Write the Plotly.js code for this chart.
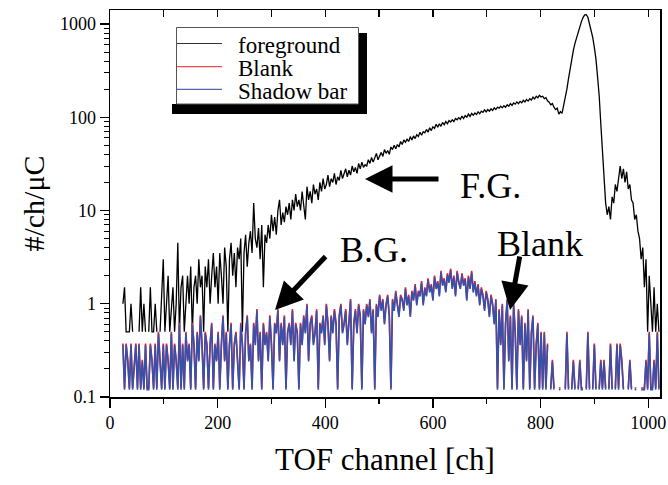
<!DOCTYPE html>
<html>
<head>
<meta charset="utf-8">
<script src="https://cdn.plot.ly/plotly-3.0.1.min.js"></script>
<style>html,body{margin:0;padding:0;background:#fff;}</style>
</head>
<body>
<div id="chart" style="width:668px;height:485px"></div>
<script>
// ---- data ----
const channelStart = 24;   // first channel
const channelStep = 3;     // channel spacing of the values below

const foreground = [
  1,1.5,0.5,0.5,0.5,1,0.5,null,null,null,
  0.5,1.5,0.5,1,0.5,null,0.5,1.5,0.5,0.5,
  1,0.5,null,0.5,1.5,3,0.5,1,2,0.5,
  1,1.5,0.5,1,4.5,0.5,1.5,2,0.5,1,
  2,1,2.5,0.5,1.5,2,1,3,1.5,2,
  0.5,2.5,1.5,3,1,2,3.5,1.5,2.5,1,
  3.5,2,1,4,2.5,0.5,3,4.5,2,3.5,
  1.5,4,3,5,0.5,3.5,5.5,2.5,4.5,6,
  3.5,12,5,4,6.5,3,7,1.5,5.5,4.5,
  7,5,9,6,8.5,5.5,10,13,7,9.5,
  7.5,11,9,12,8,13,10,15,11,13,
  10,16,12,8,18,13,16,12,19,15,
  17,13,20,16,22,17,19,24,18,22,
  20,25,19,23,21,27,22,25,28,23,
  27,24,30,26,29,25,32,28,33,29,
  31,30,35,32,37,33,36,41,35,39,
  42,38,45,41,44,40,48,45,50,46,
  51,48,55,51,57,54,58,55,62,57,
  63,59,65,62,69,64,70,68,74,69,
  77,72,79,76,84,78,85,80,88,83,
  90,85,92,89,94,90,97,94,99,95,
  103,97,104,100,108,102,110,105,111,107,
  114,109,116,113,120,114,121,116,123,118,
  126,121,128,125,131,126,133,128,136,131,
  140,134,142,138,146,140,148,143,152,146,
  155,149,158,153,164,157,168,162,172,165,
  168,158,162,150,145,136,140,128,121,125,
  108,115,110,135,160,200,260,340,420,520,
  620,720,830,940,1060,1170,1250,1260,1180,1000,
  870,720,560,420,270,170,85,45,24,12,
  9,11,8,14,12,19,16,24,30,22,
  28,20,26,17,19,13,12,8,9,6,
  5,3,4,1.5,3,0.5,2,1,0.5,1.5,
  0.5,1,0.5
];

const blank = [
  0.375,0.125,0.375,0.25,0.125,0.375,0.125,0.25,0.375,0.125,
  0.375,0.125,0.25,0.125,0.375,0.125,0.125,0.375,0.25,0.125,
  0.375,0.125,0.5,0.25,0.125,0.375,0.125,0.375,0.25,0.125,
  0.5,0.125,0.375,0.25,0.125,0.625,0.125,0.375,0.125,0.5,
  0.25,0.375,0.125,0.625,0.375,0.125,0.5,0.25,0.75,0.375,
  0.125,0.5,0.375,0.125,0.375,0.625,0.125,0.375,0.25,0.5,
  0.125,0.375,0.75,0.25,0.5,0.125,0.375,0.625,0.125,0.375,
  0.5,0.25,0.125,0.625,0.375,0.125,0.5,0.75,0.25,0.375,
  0.125,0.625,0.375,0.875,0.25,0.5,0.125,0.625,0.375,0.5,
  0.25,0.75,0.375,0.125,0.625,0.5,0.875,0.25,0.625,0.375,
  0.75,0.125,0.5,0.625,0.375,0.875,0.25,0.625,0.5,0.125,
  0.625,0.375,0.75,0.5,1,0.25,0.625,0.75,0.375,0.5,
  0.875,0.125,0.625,0.5,0.75,0.375,1,0.625,0.25,0.75,
  0.5,0.875,0.625,0.125,0.75,1,0.5,0.625,0.875,0.375,
  0.75,1.125,0.125,0.625,0.875,0.5,1,0.75,0.125,0.875,
  0.625,1,0.75,1.125,0.5,0.875,0.125,1,0.75,1.25,
  0.875,1.125,0.625,1,1.25,0.75,0.125,1.125,0.875,1.375,
  1,0.75,1.25,1.125,0.875,1.5,1,1.25,0.75,1.375,
  1.125,1.625,1,1.375,1.25,1.75,1,1.5,1.25,1.875,
  1.375,1.625,1.125,2,1.5,1.75,1.25,2.25,1.625,1.875,
  1.375,2.125,1.75,2.375,1.5,2,1.25,2.25,1.75,1.5,
  2.125,1.625,1.875,1.125,2,1.5,2.25,1.375,1.75,1.25,
  1.625,1,1.5,1.25,0.875,1.375,1.125,0.75,1.25,1,
  0.625,1.125,0.125,0.875,0.375,1,0.125,0.625,1.125,0.25,
  0.75,0.125,1,0.5,0.125,0.875,0.375,0.75,0.125,0.625,
  0.25,0.875,0.125,0.5,0.75,0.125,0.375,0.625,0.125,0.5,
  0.125,0.5,0.125,0.375,null,0.125,0.25,0.125,null,null,
  0.125,0.125,null,null,0.125,0.5,0.125,null,0.125,0.25,
  0.125,null,0.125,0.25,0.125,0.125,null,0.125,0.5,0.125,
  null,0.125,0.375,0.125,null,0.125,0.25,0.125,0.25,0.125,
  null,0.125,0.375,0.125,null,0.125,0.375,0.125,0.375,0.25,
  0.125,null,null,0.125,0.25,0.125,null,0.125,0.125,null,
  null,0.125,0.125,0.125,0.25,0.125,0.5,0.125,0.125,0.25,
  0.125,0.5,0.125
];

const shadowBar = [
  0.36,0.12,0.36,0.24,0.12,0.36,0.12,0.24,0.36,0.12,
  0.36,0.12,0.24,0.12,0.36,0.12,0.12,0.36,0.24,0.12,
  0.36,0.12,0.48,0.24,0.12,0.36,0.12,0.36,0.24,0.12,
  0.48,0.12,0.36,0.24,0.12,0.6,0.12,0.36,0.12,0.48,
  0.24,0.36,0.12,0.6,0.36,0.12,0.48,0.24,0.72,0.36,
  0.12,0.48,0.36,0.12,0.36,0.6,0.12,0.36,0.24,0.48,
  0.12,0.36,0.72,0.24,0.48,0.12,0.36,0.6,0.12,0.36,
  0.48,0.24,0.12,0.6,0.36,0.12,0.48,0.72,0.24,0.36,
  0.12,0.6,0.36,0.84,0.24,0.48,0.12,0.6,0.36,0.48,
  0.24,0.72,0.36,0.12,0.6,0.48,0.84,0.24,0.6,0.36,
  0.72,0.12,0.48,0.6,0.36,0.84,0.24,0.6,0.48,0.12,
  0.6,0.36,0.72,0.48,0.96,0.24,0.6,0.72,0.36,0.48,
  0.84,0.12,0.6,0.48,0.72,0.36,0.96,0.6,0.24,0.72,
  0.48,0.84,0.6,0.12,0.72,0.96,0.48,0.6,0.84,0.36,
  0.72,1.08,0.12,0.6,0.84,0.48,0.96,0.72,0.12,0.84,
  0.6,0.96,0.72,1.08,0.48,0.84,0.12,0.96,0.72,1.2,
  0.84,1.08,0.6,0.96,1.2,0.72,0.12,1.08,0.84,1.32,
  0.96,0.72,1.2,1.08,0.84,1.44,0.96,1.2,0.72,1.32,
  1.08,1.56,0.96,1.32,1.2,1.68,0.96,1.44,1.2,1.8,
  1.32,1.56,1.08,1.92,1.44,1.68,1.2,2.16,1.56,1.8,
  1.32,2.04,1.68,2.28,1.44,1.92,1.2,2.16,1.68,1.44,
  2.04,1.56,1.8,1.08,1.92,1.44,2.16,1.32,1.68,1.2,
  1.56,0.96,1.44,1.2,0.84,1.32,1.08,0.72,1.2,0.96,
  0.6,1.08,0.12,0.84,0.36,0.96,0.12,0.6,1.08,0.24,
  0.72,0.12,0.96,0.48,0.12,0.84,0.36,0.72,0.12,0.6,
  0.24,0.84,0.12,0.48,0.72,0.12,0.36,0.6,0.12,0.48,
  0.12,0.48,0.12,0.36,null,0.12,0.24,0.12,null,null,
  0.12,0.12,null,null,0.12,0.48,0.12,null,0.12,0.24,
  0.12,null,0.12,0.24,0.12,0.12,null,0.12,0.48,0.12,
  null,0.12,0.36,0.12,null,0.12,0.24,0.12,0.24,0.12,
  null,0.12,0.36,0.12,null,0.12,0.36,0.12,0.36,0.24,
  0.12,null,null,0.12,0.24,0.12,null,0.12,0.12,null,
  null,0.12,0.12,0.12,0.24,0.12,0.48,0.12,0.12,0.24,
  0.12,0.48,0.12
];

const seriesNames = ['foreground', 'Blank', 'Shadow bar'];
const yTickVals = [0.1, 1, 10, 100, 1000];
const yTickText = ['0.1', '1', '10', '100', '1000'];
const yMinorVals = [0.2,0.3,0.4,0.5,0.6,0.7,0.8,0.9,2,3,4,5,6,7,8,9,20,30,40,50,60,70,80,90,200,300,400,500,600,700,800,900];
const labels = ['F.G.', 'B.G.', 'Blank'];

// ---- style ----
const FONT = 'Liberation Serif';
const AXFONT = 'serif';
const C_FG = '#000000', C_BL = '#f41c24', C_SB = '#3651ac';
const W = 668, H = 485, ML = 110, MR = 8, MT = 10, MB = 88;
const pw = W - ML - MR, ph = H - MT - MB;
const px = x => (x - ML) / pw;          // pixel -> paper x
const py = y => (H - MB - y) / ph;      // pixel -> paper y

const traces = [
  {type:'scatter', mode:'lines', name:seriesNames[0], x0:channelStart, dx:channelStep, y:foreground,
   line:{color:C_FG, width:1.3}, connectgaps:false, showlegend:false},
  {type:'scatter', mode:'lines', name:seriesNames[1], x0:channelStart, dx:channelStep, y:blank,
   line:{color:C_BL, width:1.6}, connectgaps:false, showlegend:false},
  {type:'scatter', mode:'lines', name:seriesNames[2], x0:channelStart, dx:channelStep, y:shadowBar,
   line:{color:C_SB, width:1.6}, connectgaps:false, showlegend:false},
  {type:'scatter', mode:'lines', x:[], y:[], xaxis:'x2', showlegend:false, hoverinfo:'skip'}
];

const legendRows = [43.5, 66.7, 89.3];
const legendColors = ['#333', C_BL, '#2a3f92'];
const shapes = [
  // legend shadow
  {type:'rect', xref:'paper', yref:'paper', x0:px(172), x1:px(367), y0:py(114), y1:py(104), fillcolor:'#000', line:{width:0}, layer:'above'},
  {type:'rect', xref:'paper', yref:'paper', x0:px(358), x1:px(367), y0:py(114), y1:py(33), fillcolor:'#000', line:{width:0}, layer:'above'},
  // legend box
  {type:'rect', xref:'paper', yref:'paper', x0:px(176.5), x1:px(358.5), y0:py(104), y1:py(27.5), fillcolor:'#fff', line:{color:'#555', width:1}, layer:'above'}
];
legendRows.forEach((y, i) => shapes.push({type:'line', xref:'paper', yref:'paper', x0:px(177), x1:px(222), y0:py(y), y1:py(y), line:{color:legendColors[i], width:1}, layer:'above'}));

const annotations = [];
legendRows.forEach((y, i) => annotations.push({xref:'paper', yref:'paper', x:px(236), y:py(y + 2), xanchor:'left', yanchor:'middle',
  text:seriesNames[i], showarrow:false, font:{family:FONT, size:23, color:'#000'}}));
// text labels
const labelPos = [[490, 185.5], [374, 250.5], [540, 244]];
labels.forEach((t, i) => annotations.push({xref:'paper', yref:'paper', x:px(labelPos[i][0]), y:py(labelPos[i][1]),
  xanchor:'center', yanchor:'middle', text:t, showarrow:false, font:{family:FONT, size:36, color:'#000'}}));
// arrows: tip position and tail offset (pixels)
const arrows = [[365, 179, 75, 0], [275, 310, 52, -55], [510, 310, 10, -55]];
arrows.forEach(a => annotations.push({xref:'paper', yref:'paper', x:px(a[0]), y:py(a[1]), ax:a[2], ay:a[3], text:'',
  showarrow:true, arrowhead:2, arrowsize:1.1, arrowwidth:5, arrowcolor:'#000'}));

const layout = {
  width:W, height:H, margin:{l:ML, r:MR, t:MT, b:MB},
  paper_bgcolor:'#fff', plot_bgcolor:'#fff',
  showlegend:false,
  xaxis:{range:[0, 1022], tick0:0, dtick:200, ticks:'outside', ticklen:9, tickwidth:1.2, tickcolor:'#000',
    minor:{dtick:100, ticks:'outside', ticklen:5, tickwidth:1.2, tickcolor:'#000'},
    showline:true, linecolor:'#000', linewidth:1.5, mirror:true, showgrid:false, zeroline:false,
    tickfont:{family:AXFONT, size:18, color:'#000'},
    title:{text:'TOF channel [ch]', font:{family:AXFONT, size:31, color:'#000'}, standoff:16}},
  xaxis2:{overlaying:'x', side:'top', anchor:'y', range:[0, 1022], tick0:0, dtick:100, ticks:'inside', ticklen:7,
    tickwidth:1.2, tickcolor:'#000', showticklabels:false, showline:false, showgrid:false, zeroline:false},
  yaxis:{type:'log', range:[-1, 3.15], tickmode:'array', tickvals:yTickVals, ticktext:yTickText,
    ticks:'outside', ticklen:9, tickwidth:1.2, tickcolor:'#000',
    minor:{tickvals:yMinorVals, ticks:'outside', ticklen:5, tickwidth:1, tickcolor:'#000'},
    showline:true, linecolor:'#000', linewidth:1.5, mirror:true, showgrid:false, zeroline:false,
    tickfont:{family:AXFONT, size:18, color:'#000'},
    title:{text:'#/ch/μC', font:{family:AXFONT, size:30, color:'#000'}, standoff:6}},
  shapes:shapes,
  annotations:annotations
};

Plotly.newPlot('chart', traces, layout, {displayModeBar:false, staticPlot:true});
</script>
</body>
</html>
